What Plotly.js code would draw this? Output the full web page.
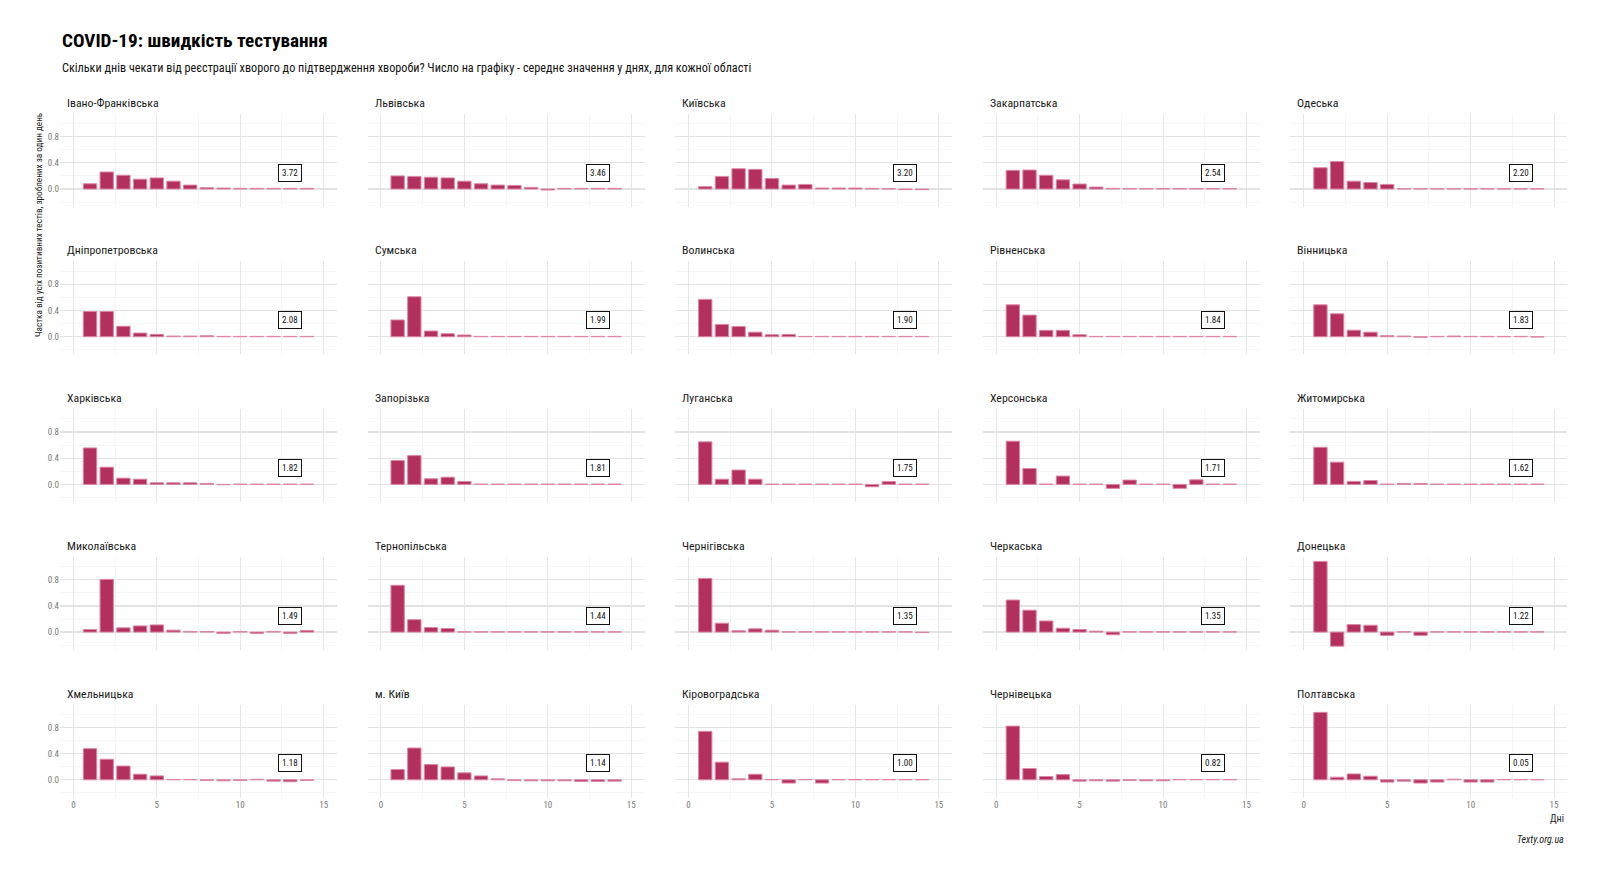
<!DOCTYPE html>
<html>
<head>
<meta charset="utf-8">
<script src="https://cdn.plot.ly/plotly-3.0.1.min.js"></script>
<style>html,body{margin:0;padding:0;background:#fff;}#chart{width:1600px;height:879px;}</style>
</head>
<body>
<div id="chart"></div>
<script>
// ---- data ----
const days = [1,2,3,4,5,6,7,8,9,10,11,12,13,14];
const regions = ["Івано-Франківська","Львівська","Київська","Закарпатська","Одеська",
  "Дніпропетровська","Сумська","Волинська","Рівненська","Вінницька",
  "Харківська","Запорізька","Луганська","Херсонська","Житомирська",
  "Миколаївська","Тернопільська","Чернігівська","Черкаська","Донецька",
  "Хмельницька","м. Київ","Кіровоградська","Чернівецька","Полтавська"];
const means = ["3.72","3.46","3.20","2.54","2.20",
  "2.08","1.99","1.90","1.84","1.83",
  "1.82","1.81","1.75","1.71","1.62",
  "1.49","1.44","1.35","1.35","1.22",
  "1.18","1.14","1.00","0.82","0.05"];

const ivanoFrankivska = [0.08,0.26,0.21,0.15,0.17,0.12,0.06,0.02,0.015,0.01,0.01,0.01,0.01,0.01];
const lvivska        = [0.20,0.19,0.18,0.17,0.12,0.08,0.06,0.055,0.025,-0.015,0.01,0.01,0.01,0.01];
const kyivska        = [0.036,0.19,0.31,0.30,0.16,0.06,0.07,0.015,0.015,0.015,0.01,0.005,-0.01,-0.01];
const zakarpatska    = [0.285,0.29,0.21,0.14,0.076,0.03,0.01,0.008,0.008,0.008,0.008,0.008,0.008,0.008];
const odeska         = [0.325,0.42,0.12,0.10,0.07,0.005,0.005,0.005,0.005,0.005,0.005,0.005,0.005,0.005];
const dnipropetrovska= [0.385,0.385,0.16,0.056,0.036,0.01,0.01,0.015,0.005,0.005,0.005,0.005,0.005,0.005];
const sumska         = [0.256,0.61,0.087,0.046,0.026,0.005,0.005,0.005,0.005,0.005,0.005,0.005,0.005,0.005];
const volynska       = [0.57,0.186,0.157,0.07,0.03,0.035,0.005,0.005,0.005,0.005,0.005,0.005,0.005,0.005];
const rivnenska      = [0.487,0.33,0.097,0.097,0.03,0.005,0.005,0.005,0.005,0.005,0.005,0.005,0.005,0.005];
const vinnytska      = [0.487,0.35,0.10,0.07,0.015,0.01,-0.01,0.005,0.01,0.005,0.005,0.005,0.005,-0.005];
const kharkivska     = [0.557,0.263,0.096,0.08,0.025,0.025,0.025,0.015,-0.005,0.005,0.005,0.005,0.005,0.005];
const zaporizka      = [0.365,0.44,0.086,0.11,0.045,0.005,0.005,0.005,0.005,0.005,0.005,0.005,0.005,0.005];
const luhanska       = [0.65,0.08,0.22,0.08,0.005,0.005,0.005,0.005,0.005,0.005,-0.036,0.043,0.005,0.005];
const khersonska     = [0.66,0.243,0.005,0.127,0.005,0.005,-0.06,0.066,0.005,0.005,-0.06,0.07,0.005,0.005];
const zhytomyrska    = [0.567,0.34,0.046,0.06,0.005,0.015,0.015,0.005,0.005,0.005,0.005,0.005,0.005,0.005];
const mykolaivska    = [0.04,0.805,0.065,0.095,0.11,0.03,0.01,0.01,-0.02,0.01,-0.02,0.01,-0.02,0.025];
const ternopilska    = [0.715,0.19,0.07,0.055,0.005,0.005,0.005,0.005,0.005,0.005,0.005,0.005,0.005,0.005];
const chernihivska   = [0.82,0.136,0.02,0.05,0.03,0.005,0.005,0.005,0.005,0.005,0.005,0.005,0.005,-0.008];
const cherkaska      = [0.49,0.335,0.17,0.06,0.04,0.015,-0.04,0.005,0.005,0.005,0.005,0.005,0.005,0.005];
const donetska       = [1.08,-0.215,0.115,0.105,-0.05,0.005,-0.05,0.005,0.005,0.005,0.005,0.005,0.005,0.005];
const khmelnytska    = [0.476,0.314,0.21,0.086,0.06,0.005,0.005,-0.01,-0.015,-0.01,0.008,-0.02,-0.03,-0.01];
const kyivCity       = [0.157,0.486,0.233,0.197,0.106,0.06,0.015,-0.012,-0.015,-0.015,-0.015,-0.025,-0.025,-0.02];
const kirovohradska  = [0.74,0.27,0.015,0.085,0.005,-0.05,0.005,-0.05,0.005,0.005,0.005,0.005,0.005,0.005];
const chernivetska   = [0.82,0.172,0.05,0.08,-0.02,-0.015,-0.02,-0.01,-0.015,-0.015,0.005,0.005,0.005,0.005];
const poltavska      = [1.03,0.04,0.09,0.055,-0.035,-0.02,-0.05,-0.035,0.01,-0.035,-0.035,0.005,0.005,0.005];

const seriesList = [ivanoFrankivska,lvivska,kyivska,zakarpatska,odeska,
  dnipropetrovska,sumska,volynska,rivnenska,vinnytska,
  kharkivska,zaporizka,luhanska,khersonska,zhytomyrska,
  mykolaivska,ternopilska,chernihivska,cherkaska,donetska,
  khmelnytska,kyivCity,kirovohradska,chernivetska,poltavska];

const xTickVals = [0,5,10,15];
const yTickVals = [0,0.4,0.8];
const labelX = 13, labelY = 0.25;

// ---- layout ----
const W = 1600, H = 879;
const FONT = '"Liberation Sans Narrow", "Roboto Condensed", "Arial Narrow", "DejaVu Sans Condensed", sans-serif';
const panelW = 277, panelH = 93, colStep = 307.6, rowStep = 147.7;
const left0 = 60, top0 = 113.7;

const traces = [];
const layout = {
  width: W, height: H,
  margin: {l:0, r:0, t:0, b:0},
  paper_bgcolor: '#fff', plot_bgcolor: '#fff',
  showlegend: false,
  font: {family: FONT, color: '#222'},
  annotations: [],
  bargap: 0.2
};

regions.forEach((name, i) => {
  const r = Math.floor(i / 5), c = i % 5;
  const L = left0 + c * colStep, T = top0 + r * rowStep;
  const sfx = i === 0 ? '' : String(i + 1);
  const xa = 'xaxis' + sfx, ya = 'yaxis' + sfx;
  traces.push({
    type: 'bar', x: days, y: seriesList[i],
    xaxis: 'x' + sfx, yaxis: 'y' + sfx,
    width: 0.8,
    marker: {color: '#b3305e', line: {color: '#dd86a8', width: 1}},
    hoverinfo: 'skip'
  });
  layout[xa] = {
    domain: [L / W, (L + panelW) / W],
    anchor: 'y' + sfx,
    range: [-0.8, 15.8],
    tickvals: xTickVals,
    showticklabels: r === 4,
    ticks: '',
    tickfont: {size: 9, color: '#777', family: FONT},
    showgrid: true, gridcolor: '#e6e6e6', gridwidth: 1,
    minor: {tickvals: [2.5, 7.5, 12.5], showgrid: true, gridcolor: '#eeeeee', gridwidth: 0.6},
    zeroline: false, showline: false, fixedrange: true
  };
  layout[ya] = {
    domain: [1 - (T + panelH) / H, 1 - T / H],
    anchor: 'x' + sfx,
    range: [-0.27, 1.15],
    tickvals: yTickVals,
    ticktext: ['0.0','0.4','0.8'],
    showticklabels: c === 0,
    ticks: '',
    tickfont: {size: 9, color: '#777', family: FONT},
    showgrid: true, gridcolor: '#e3e3e3', gridwidth: 1.3,
    minor: {tickvals: [-0.2, 0.2, 0.6, 1.0], showgrid: true, gridcolor: '#f0f0f0', gridwidth: 0.6},
    zeroline: false, showline: false, fixedrange: true
  };
  // strip title
  layout.annotations.push({
    xref: 'paper', yref: 'paper',
    x: (L + 5) / W, y: 1 - (T - 11) / H,
    xanchor: 'left', yanchor: 'middle',
    text: name, showarrow: false,
    font: {size: 11.8, color: '#1a1a1a', family: FONT}
  });
  // mean label
  layout.annotations.push({
    xref: 'x' + sfx, yref: 'y' + sfx,
    x: labelX, y: labelY,
    text: means[i], showarrow: false,
    font: {size: 9, color: '#111', family: FONT},
    bgcolor: '#fff', bordercolor: '#111', borderwidth: 1, borderpad: 3
  });
});

// Titles and captions
layout.annotations.push(
  {xref:'paper', yref:'paper', x: 60/W, y: 1 - 41/H, xanchor:'left', yanchor:'middle', showarrow:false,
   text:'<b>COVID-19: швидкість тестування</b>', font:{size:19.2, color:'#000', family: FONT}},
  {xref:'paper', yref:'paper', x: 60/W, y: 1 - 67.5/H, xanchor:'left', yanchor:'middle', showarrow:false,
   text:'Скільки днів чекати від реєстрації хворого до підтвердження хвороби? Число на графіку - середнє значення у днях, для кожної області',
   font:{size:12.2, color:'#111', family: FONT}},
  {xref:'paper', yref:'paper', x: 38/W, y: 1 - 225/H, xanchor:'center', yanchor:'middle', showarrow:false,
   textangle:-90, text:'Частка від усіх позитивних тестів, зроблених за один день',
   font:{size:9.2, color:'#222', family: FONT}},
  {xref:'paper', yref:'paper', x: 1566/W, y: 1 - 818/H, xanchor:'right', yanchor:'middle', showarrow:false,
   text:'Дні', font:{size:10, color:'#222', family: FONT}},
  {xref:'paper', yref:'paper', x: 1566/W, y: 1 - 839/H, xanchor:'right', yanchor:'middle', showarrow:false,
   text:'<i>Texty.org.ua</i>', font:{size:10, color:'#222', family: FONT}}
);

Plotly.newPlot('chart', traces, layout, {staticPlot: true, displayModeBar: false});
</script>
</body>
</html>
